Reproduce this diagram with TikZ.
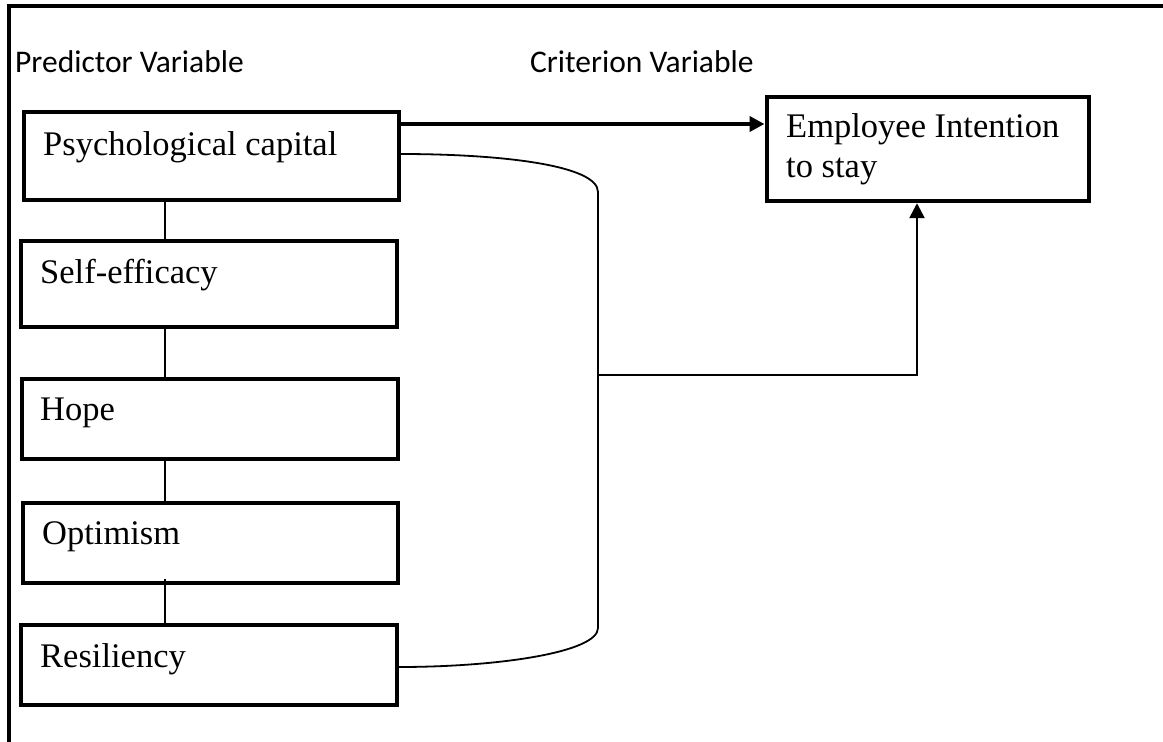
\documentclass[tikz,border=0pt]{standalone}
\usepackage{fontspec}
\setmainfont{Liberation Serif}
\newfontfamily\calfont{Carlito}
\usetikzlibrary{arrows.meta}
\begin{document}
\begin{tikzpicture}[x=1pt,y=-1pt,
  box/.style={draw, line width=4.2pt, anchor=north west, inner sep=0pt},
  boxtext/.style={anchor=base west, inner sep=0pt, font=\fontsize{34.5}{40}\selectfont},
  head/.style={anchor=base west, inner sep=0pt, font=\calfont\fontsize{31.5}{36}\selectfont},
  link/.style={line width=1.8pt},
  arr/.style={-{Triangle[length=15pt,width=15pt]}}]
\useasboundingbox (0,0) rectangle (1163,742);
% frame
\draw[line width=4pt] (9,742) -- (9,6) -- (1163,6);
% headings
\node[head] (hp) at (15,72) {Predictor Variable};
\node[head] (hc) at (530,72) {Criterion Variable};
% boxes
\node[box, minimum width=375pt, minimum height=88pt] (pc) at (21.5,110) {};
\node[box, minimum width=376pt, minimum height=86pt] (se) at (18.5,239) {};
\node[box, minimum width=376pt, minimum height=80pt] (hope) at (19.5,377) {};
\node[box, minimum width=375pt, minimum height=80pt] (opt) at (20.5,501) {};
\node[box, minimum width=376pt, minimum height=80pt] (res) at (18.5,623) {};
\node[box, minimum width=322pt, minimum height=104pt] (eis) at (764.5,95) {};
% texts
\node[boxtext] (tpc) at (43,155) {Psychological capital};
\node[boxtext] (tse) at (40,283) {Self-efficacy};
\node[boxtext] (thope) at (40,420) {Hope};
\node[boxtext] (topt) at (42,544) {Optimism};
\node[boxtext] (tres) at (40,667) {Resiliency};
\node[boxtext] (te1) at (786,137) {Employee Intention};
\node[boxtext] (te2) at (786,177) {to stay};
% chain lines
\coordinate (vx) at (165,0);
\draw[link] (vx |- pc.south) -- (vx |- se.north);
\draw[link] (vx |- se.south) -- (vx |- hope.north);
\draw[link] (vx |- hope.south) -- (vx |- opt.north);
\draw[link] ([yshift=6pt]vx |- opt.south) -- ([yshift=-4pt]vx |- res.north);
% direct arrow
\coordinate (ay) at (0,124);
\draw[line width=3.8pt, arr] (ay -| pc.east) -- (ay -| eis.west);
% bracket curve
\coordinate (cx) at (598,0);
\coordinate (ty) at (0,154);
\coordinate (by) at (0,667);
\coordinate (my) at (0,375);
\coordinate (ex) at (917,0);
\draw[link] (ty -| pc.east) .. controls (500,154) and (598,165) .. (598,192)
  -- (598,628) .. controls (598,652) and (500,667) .. (by -| res.east);
\draw[line width=2.5pt, arr] (cx |- my) -- (ex |- my) -- (ex |- eis.south);
\end{tikzpicture}
\end{document}
